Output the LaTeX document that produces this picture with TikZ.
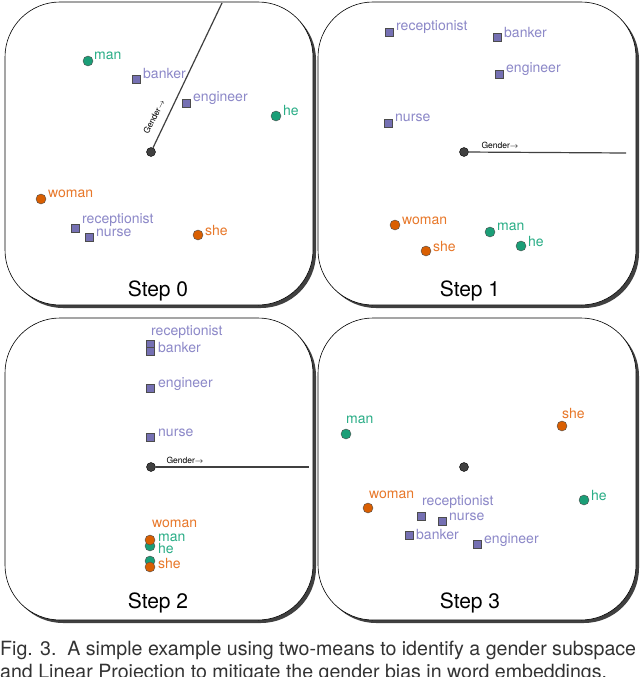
\documentclass[tikz,border=0pt]{standalone}
\usepackage{fontspec}
\setmainfont{TeX Gyre Heros}
\definecolor{cg}{HTML}{1B9E77}
\definecolor{co}{HTML}{D95F02}
\definecolor{cp}{HTML}{7570B3}
\definecolor{cpl}{HTML}{8C88C8}
\definecolor{cgl}{HTML}{2BAE87}
\definecolor{col}{HTML}{E8782A}
\begin{document}
\begin{tikzpicture}[x=1pt,y=-1pt,
  panel/.style={draw=black,line width=0.6pt,fill=white,rounded corners=55pt},
  shad/.style={fill=black!75,rounded corners=55pt},
  gpt/.style={circle,draw=black!70,fill=cg,inner sep=0pt,minimum size=10pt},
  opt/.style={circle,draw=black!70,fill=co,inner sep=0pt,minimum size=10pt},
  sq/.style={rectangle,draw=black!70,fill=cp,inner sep=0pt,minimum size=8.5pt},
  ctr/.style={circle,draw=black,fill=black!75,inner sep=0pt,minimum size=9pt},
  gl/.style={text=cgl,font=\fontsize{14}{14}\selectfont,anchor=west,inner sep=1pt},
  ol/.style={text=col,font=\fontsize{14}{14}\selectfont,anchor=west,inner sep=1pt},
  pl/.style={text=cpl,font=\fontsize{14}{14}\selectfont,anchor=west,inner sep=1pt},
  steplab/.style={font=\fontsize{21}{23}\selectfont},
  axis/.style={draw=black!75,line width=1.2pt},
  glab/.style={font=\fontsize{8.5}{9}\selectfont,inner sep=1pt}]
\useasboundingbox (0,0) rectangle (640,677);
% panels
\foreach \a/\b/\c/\d in {5/2/313/305, 318/2/636/305, 5/318/313/620, 318/318/636/620}{
  \fill[shad] (\a+3,\b+3) rectangle (\c+3,\d+3);
  \draw[panel] (\a,\b) rectangle (\c,\d);
}
% Step 0
\node[ctr] (c0) at (151,152) {};
\coordinate (e0) at (222,3);
\draw[axis] (c0) -- (e0);
\node[glab,rotate=63] at (154,117) {Gender$\to$};
\node[gpt] (man0) at (88,61) {}; \node[gl] at (93,56) {man};
\node[sq] (bank0) at (136,79) {}; \node[pl] at (142,74) {banker};
\node[sq] (eng0) at (186,103) {}; \node[pl] at (192,98) {engineer};
\node[gpt] (he0) at (276,116) {}; \node[gl] at (282,111) {he};
\node[opt] (wom0) at (41,199) {}; \node[ol] at (47,194) {woman};
\node[sq] (rec0) at (75,228) {}; \node[pl] at (81,220) {receptionist};
\node[sq] (nur0) at (89,237) {}; \node[pl] at (95,233) {nurse};
\node[opt] (she0) at (198,235) {}; \node[ol] at (204,231) {she};
\node[steplab] at (158,291) {Step 0};
% Step 1
\node[ctr] (c1) at (464,152) {};
\coordinate (e1) at (626,153);
\draw[axis] (c1) -- (e1);
\node[glab] at (500,145) {Gender$\to$};
\node[sq] (rec1) at (389,32) {}; \node[pl] at (395,27) {receptionist};
\node[sq] (bank1) at (497,37) {}; \node[pl] at (503,33) {banker};
\node[sq] (eng1) at (499,74) {}; \node[pl] at (505,69) {engineer};
\node[sq] (nur1) at (388,123) {}; \node[pl] at (394,118) {nurse};
\node[opt] (wom1) at (395,225) {}; \node[ol] at (401,221) {woman};
\node[opt] (she1) at (426,251) {}; \node[ol] at (432,246) {she};
\node[gpt] (man1) at (490,232) {}; \node[gl] at (496,227) {man};
\node[gpt] (he1) at (521,246) {}; \node[gl] at (527,241) {he};
\node[steplab] at (470,291) {Step 1};
% Step 2
\node[ctr] (c2) at (151,467) {};
\coordinate (e2) at (309,467);
\draw[axis] (c2) -- (e2);
\node[glab] at (185,460) {Gender$\to$};
\node[sq] (rec2) at (150,344) {}; \node[pl] at (150,332) {receptionist};
\node[sq] (bank2) at (150,351) {}; \node[pl] at (157,347) {banker};
\node[sq] (eng2) at (150,388) {}; \node[pl] at (157,384) {engineer};
\node[sq] (nur2) at (150,437) {}; \node[pl] at (157,433) {nurse};
\node[ol] at (151,524) {woman};
\node[gpt] (man2) at (150,546) {};
\node[opt] (wom2) at (150,540) {};
\node[gpt] (he2) at (150,561) {};
\node[opt] (she2) at (150,567) {};
\node[gl] at (157,538) {man};
\node[gl] at (157,548) {he};
\node[ol] at (157,563) {she};
\node[steplab] at (158,603) {Step 2};
% Step 3
\node[ctr] (c3) at (464,467) {};
\node[gpt] (man3) at (346,434) {}; \node[gl] at (345,420) {man};
\node[opt] (she3) at (562,426) {}; \node[ol] at (561,413) {she};
\node[gpt] (he3) at (584,500) {}; \node[gl] at (590,495) {he};
\node[opt] (wom3) at (368,508) {}; \node[ol] at (368,495) {woman};
\node[sq] (rec3) at (421,516) {}; \node[pl] at (421,502) {receptionist};
\node[sq] (nur3) at (442,521) {}; \node[pl] at (448,517) {nurse};
\node[sq] (bank3) at (409,535) {}; \node[pl] at (415,534) {banker};
\node[sq] (eng3) at (477,544) {}; \node[pl] at (483,540) {engineer};
\node[steplab] at (470,603) {Step 3};
% caption
\node[anchor=west,font=\fontsize{19.6}{22}\selectfont,text=black!80,inner sep=0pt] at (0,650) {Fig. 3.\ \ A simple example using two-means to identify a gender subspace};
\node[anchor=west,font=\fontsize{19.6}{22}\selectfont,text=black!80,inner sep=0pt] at (0,673) {and Linear Projection to mitigate the gender bias in word embeddings.};
\end{tikzpicture}
\end{document}
